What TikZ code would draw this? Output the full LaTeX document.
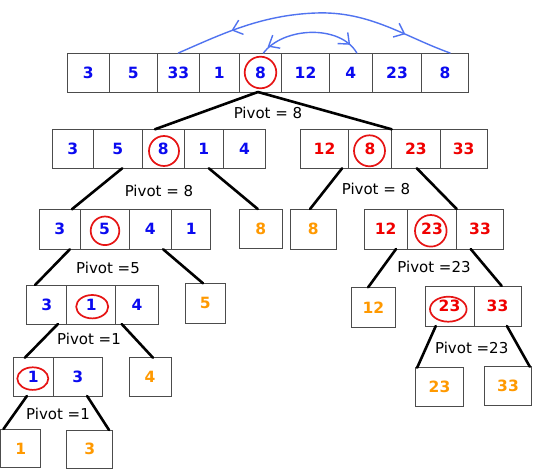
\documentclass[tikz,border=0pt]{standalone}
\usepackage{fontspec}
\setmainfont{DejaVu Sans}
\usetikzlibrary{calc,shapes.geometric,arrows.meta,decorations.markings}
\definecolor{numblue}{RGB}{10,10,240}
\definecolor{numred}{RGB}{240,0,0}
\definecolor{numorange}{RGB}{255,153,0}
\definecolor{arcblue}{RGB}{80,115,240}
\definecolor{pivred}{RGB}{230,20,20}
\begin{document}
\begin{tikzpicture}[x=1pt,y=-1pt,
  cell/.style={draw=black!70, line width=1pt, inner sep=0pt, outer sep=0pt, font=\fontsize{15.5}{18}\selectfont\bfseries},
  bl/.style={cell,text=numblue},
  rd/.style={cell,text=numred},
  og/.style={cell,text=numorange},
  pivc/.style={circle, draw=pivred, line width=1.7pt, inner sep=0pt},
  pive/.style={ellipse, draw=pivred, line width=1.7pt, inner sep=0pt},
  link/.style={line width=2.6pt, line cap=round},
  lbl/.style={font=\fontsize{15}{18}\selectfont, inner sep=0pt},
  swap/.style={draw=arcblue, line width=1.4pt, line cap=round},
  barb/.style={}
]
\useasboundingbox (0,0) rectangle (557,471);
\fill[white] (0,0) rectangle (557,471);

% top row
\node[bl, minimum width=41.7, minimum height=39] (t1) at (88.15,72.5) {3};
\node[bl, minimum width=48.3, minimum height=39] (t2) at (133.15,72.5) {5};
\node[bl, minimum width=42, minimum height=39] (t3) at (178.3,72.5) {33};
\node[bl, minimum width=40, minimum height=39] (t4) at (219.3,72.5) {1};
\node[bl, minimum width=42.4, minimum height=39] (t5) at (260.5,72.5) {8};
\node[bl, minimum width=47.6, minimum height=39] (t6) at (305.5,72.5) {12};
\node[bl, minimum width=43, minimum height=39] (t7) at (350.8,72.5) {4};
\node[bl, minimum width=49.4, minimum height=39] (t8) at (397,72.5) {23};
\node[bl, minimum width=46.6, minimum height=39] (t9) at (445,72.5) {8};
\node[pivc, minimum size=31.6] (p0) at (260.5,72.5) {};

% row 2 left
\node[bl, minimum width=41, minimum height=39] (a1) at (72.8,148.8) {3};
\node[bl, minimum width=49, minimum height=39] (a2) at (117.8,148.8) {5};
\node[bl, minimum width=42, minimum height=39] (a3) at (163.3,148.8) {8};
\node[bl, minimum width=39, minimum height=39] (a4) at (203.8,148.8) {1};
\node[bl, minimum width=42.4, minimum height=39] (a5) at (244.5,148.8) {4};
\node[pivc, minimum size=30] (p1) at (164,151) {};

% row 2 right
\node[rd, minimum width=47.6, minimum height=39] (b1) at (324.5,148.8) {12};
\node[rd, minimum width=43.4, minimum height=39] (b2) at (370,148.8) {8};
\node[rd, minimum width=48.3, minimum height=39] (b3) at (415.85,148.8) {23};
\node[rd, minimum width=47.3, minimum height=39] (b4) at (463.65,148.8) {33};
\node[pivc, minimum size=31] (p2) at (369.5,150.8) {};

% row 3 left
\node[bl, minimum width=40.7, minimum height=40] (d1) at (59.65,229.3) {3};
\node[bl, minimum width=49, minimum height=40] (d2) at (104.5,229.3) {5};
\node[bl, minimum width=42.7, minimum height=40] (d3) at (150.35,229.3) {4};
\node[bl, minimum width=39, minimum height=40] (d4) at (191.2,229.3) {1};
\node[pivc, minimum size=28.6] (p3) at (105,230.8) {};
\node[og, minimum width=43, minimum height=39.3] (e) at (260.8,228.7) {8};
\node[og, minimum width=46.7, minimum height=40] (f) at (313.35,229) {8};

% row 3 right
\node[rd, minimum width=43.3, minimum height=40] (g1) at (385.65,229) {12};
\node[rd, minimum width=49.4, minimum height=40] (g2) at (432,229) {23};
\node[rd, minimum width=46.6, minimum height=40] (g3) at (480,229) {33};
\node[pivc, minimum size=31.6] (p4) at (430.8,230.8) {};

% row 4 left
\node[bl, minimum width=40, minimum height=39] (h1) at (46.7,304.5) {3};
\node[bl, minimum width=49, minimum height=39] (h2) at (91.2,304.5) {1};
\node[bl, minimum width=42.6, minimum height=39] (h3) at (137,304.5) {4};
\node[pive, minimum width=32, minimum height=23.4] (e1) at (92.2,306.7) {};
\node[og, minimum width=39.3, minimum height=40] (five) at (205.35,303.3) {5};

% row 4 right
\node[og, minimum width=43.3, minimum height=40] (twelve) at (373.35,307.3) {12};
\node[rd, minimum width=49, minimum height=40] (k1) at (449.5,306) {23};
\node[rd, minimum width=47, minimum height=40] (k2) at (497.5,306) {33};
\node[pive, minimum width=36.6, minimum height=25] (e3) at (448.3,309.2) {};

% row 5 left
\node[bl, minimum width=40, minimum height=38.3] (m1) at (33.3,376.85) {1};
\node[bl, minimum width=49, minimum height=38.3] (m2) at (77.8,376.85) {3};
\node[pive, minimum width=31, minimum height=22.6] (e2) at (32.8,378.6) {};
\node[og, minimum width=42, minimum height=38.3] (four) at (150,376.85) {4};

% row 5 right
\node[og, minimum width=47.6, minimum height=39] (tt) at (439.5,387.2) {23};
\node[og, minimum width=47.4, minimum height=39] (tth) at (508,386.2) {33};

% bottom leaves
\node[og, minimum width=40, minimum height=38.7] (one) at (20.7,448.35) {1};
\node[og, minimum width=46, minimum height=38.3] (three) at (89.7,449.15) {3};

% pivot labels
\node[lbl] (l1) at (268,113) {Pivot = 8};
\node[lbl] (l2) at (159,191) {Pivot = 8};
\node[lbl] (l3) at (376,189) {Pivot = 8};
\node[lbl] (l4) at (108,268) {Pivot =5};
\node[lbl] (l5) at (434,266.7) {Pivot =23};
\node[lbl] (l6) at (89,339) {Pivot =1};
\node[lbl] (l7) at (471.7,348.3) {Pivot =23};
\node[lbl] (l8) at (58,414) {Pivot =1};

% connectors
\draw[link] ($(t5.south west)!0.44!(t5.south east)$) -- ($(a3.north west)!0.3!(a3.north east)$);
\draw[link] ($(t5.south west)!0.44!(t5.south east)$) -- (b3.north west);
\draw[link] ($(a2.south west)!0.59!(a2.south east)$) -- ($(d1.north west)!0.8!(d1.north east)$);
\draw[link] ($(a4.south west)!0.63!(a4.south east)$) -- ($(e.north west)!0.43!(e.north east)$);
\draw[link] ($(b1.south west)!0.87!(b1.south east)$) -- ($(f.north west)!0.43!(f.north east)$);
\draw[link] ($(b3.south west)!0.52!(b3.south east)$) -- (g3.north west);
\draw[link] ($(d1.south west)!0.75!(d1.south east)$) -- ($(h1.north west)!0.21!(h1.north east)$);
\draw[link] ($(d3.south west)!0.8!(d3.south east)$) -- ($(five.north west)!0.44!(five.north east)$);
\draw[link] ($(g1.south west)!0.74!(g1.south east)$) -- ($(twelve.north west)!0.38!(twelve.north east)$);
\draw[link] ($(g3.south west)!0.3!(g3.south east)$) -- ($(k2.north west)!0.59!(k2.north east)$);
\draw[link] ($(h1.south west)!0.78!(h1.south east)$) -- ($(m1.north west)!0.29!(m1.north east)$);
\draw[link] ($(h3.south west)!0.14!(h3.south east)$) -- ($(four.north west)!0.57!(four.north east)$);
\draw[link] ($(k1.south west)!0.22!(k1.south east)$) -- ($(tt.north west)!0.03!(tt.north east)$);
\draw[link] ($(k2.south west)!0.7!(k2.south east)$) -- ($(tth.north west)!0.96!(tth.north east)$);
\draw[link] ($(m1.south west)!0.34!(m1.south east)$) -- ($(one.north west)!0.07!(one.north east)$);
\draw[link] ($(m2.south west)!0.69!(m2.south east)$) -- ($(three.north west)!0.92!(three.north east)$);

% swap arcs
\draw[swap, postaction={decorate}, decoration={markings,
   mark=at position 0.24 with {\arrow{Straight Barb[reversed,length=9pt,width=15pt,line width=1.4pt]}},
   mark=at position 0.83 with {\arrow{Straight Barb[length=9pt,width=15pt,line width=1.4pt]}}}]
  (t3.north) .. controls (220,35) and (260,15) .. (316,13)
  .. controls (370,11) and (405,37) .. ($(t9.north west)!0.61!(t9.north east)$);
\draw[swap, postaction={decorate}, decoration={markings,
   mark=at position 0.17 with {\arrow{Straight Barb[reversed,length=9pt,width=15pt,line width=1.4pt]}},
   mark=at position 0.9 with {\arrow{Straight Barb[length=9pt,width=15pt,line width=1.4pt]}}}]
  ($(t5.north west)!0.57!(t5.north east)$) .. controls (283,27) and (340,24) .. ($(t7.north west)!0.64!(t7.north east)$);
\end{tikzpicture}
\end{document}
